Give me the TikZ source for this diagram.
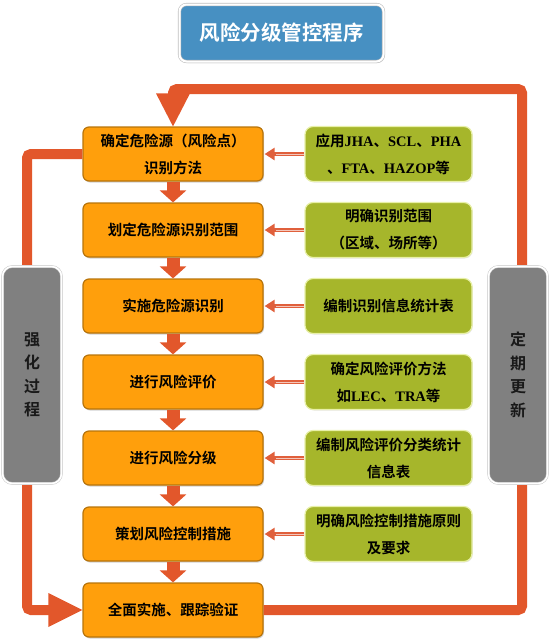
\documentclass[tikz,border=0pt]{standalone}
\usepackage{fontspec}
\setmainfont{Liberation Serif}
\newfontfamily\cjk[BoldFont={Noto Sans CJK SC Bold}]{Noto Sans CJK SC}
\usetikzlibrary{arrows.meta,shadows}
\definecolor{loopred}{HTML}{E2572B}
\definecolor{boxorange}{HTML}{FF9F0C}
\definecolor{boxorangedark}{HTML}{B8740A}
\definecolor{boxgreen}{HTML}{A6B62B}
\definecolor{boxgreenedge}{HTML}{E8F0A8}
\definecolor{bargray}{HTML}{808080}
\definecolor{titleblue}{HTML}{4790C2}
\definecolor{smallred}{HTML}{E0603C}
\newcommand\lat[1]{{\rmfamily #1}}
\tikzset{
  obox/.style={draw=boxorangedark, line width=1.2pt, fill=boxorange, rounded corners=6pt,
    minimum width=180pt, minimum height=54pt, inner sep=0pt, align=center,
    font={\cjk\bfseries\fontsize{14.5}{27}\selectfont},
    drop shadow={shadow xshift=1pt, shadow yshift=-1.5pt, opacity=0.35}},
  gbox/.style={draw=boxgreenedge, line width=1.2pt, fill=boxgreen, rounded corners=8pt,
    minimum width=167pt, minimum height=55pt, inner sep=0pt, align=center,
    font={\cjk\bfseries\fontsize{14.5}{27}\selectfont},
    drop shadow={shadow xshift=0.8pt, shadow yshift=-1pt, opacity=0.2}},
  sidebar/.style={draw=gray!45, double=white, double distance=1.6pt, line width=0.5pt,
    fill=bargray, rounded corners=10pt, minimum width=59pt, minimum height=217pt,
    inner sep=0pt, align=center, text=black!90,
    font={\cjk\bfseries\fontsize{16}{23.5}\selectfont}},
  titlebox/.style={draw=gray!50, double=white, double distance=2pt, line width=0.6pt,
    fill=titleblue, rounded corners=7pt, minimum width=204pt, minimum height=57pt,
    inner sep=0pt, text=white, font={\cjk\bfseries\fontsize{20.5}{24}\selectfont},
    drop shadow={shadow xshift=1pt, shadow yshift=-1.5pt, opacity=0.3}},
  loopline/.style={draw=loopred, line width=10pt, rounded corners=4pt},
  downarrow/.style={draw=loopred, line width=13pt, -{Triangle[length=12pt,width=26pt]}},
  smallarrow/.style={draw=smallred, line width=3.4pt, -{Triangle[length=10pt,width=12pt]}},
  smallinner/.style={draw=smallred!35!white, line width=0.9pt},
}
\begin{document}
\begin{tikzpicture}[x=1pt,y=-1pt]
\useasboundingbox (0,0) rectangle (552,643);

% orange boxes
\node[obox] (o1) at (173,154) {确定危险源（风险点）\\识别方法};
\node[obox] (o2) at (173,230) {划定危险源识别范围};
\node[obox] (o3) at (173,306) {实施危险源识别};
\node[obox] (o4) at (173,382) {进行风险评价};
\node[obox] (o5) at (173,458) {进行风险分级};
\node[obox] (o6) at (173,534) {策划风险控制措施};
\node[obox] (o7) at (173,610) {全面实施、跟踪验证};

% loop lines
\coordinate (ltop) at (27,154);
\coordinate (lbot) at (27,610);
\coordinate (rbot) at (522,610);
\coordinate (rtop) at (522,89);
\coordinate (ctop) at (173,89);
\draw[loopline] (o1.west) -- (ltop) -- (lbot) -- ([xshift=-33pt]o7.west);
\fill[loopred] (o7.west) -- ++(-34,-17) -- ++(0,34) -- cycle;
\draw[loopline] (o7.east) -- (rbot) -- (rtop) -- (ctop) -- ([yshift=32pt]o1.north);
\fill[loopred] (o1.north) -- ++(-17,-33) -- ++(34,0) -- cycle;

% side bars
\node[sidebar] (lb) at (32,375) {强\\化\\过\\程};
\node[sidebar] (rb) at (518,375) {定\\期\\更\\新};

% title
\node[titlebox] (t) at (281.5,33) {风险分级管控程序};

% green boxes
\node[gbox] (g1) at (388.5,154) {应用\lat{JHA}、\lat{SCL}、\lat{PHA}\\、\lat{FTA}、\lat{HAZOP}等};
\node[gbox] (g2) at (388.5,230) {明确识别范围\\（区域、场所等）};
\node[gbox] (g3) at (388.5,306) {编制识别信息统计表};
\node[gbox] (g4) at (388.5,382) {确定风险评价方法\\如\lat{LEC}、\lat{TRA}等};
\node[gbox] (g5) at (388.5,458) {编制风险评价分类统计\\信息表};
\node[gbox] (g6) at (388.5,534) {明确风险控制措施原则\\及要求};

% down arrows
\foreach \a/\b in {o1/o2,o2/o3,o3/o4,o4/o5,o5/o6,o6/o7}{
  \draw[downarrow] (\a.south) -- (\b.north);
}

% small arrows
\foreach \i in {1,...,6}{
  \draw[smallarrow] (g\i.west) -- ([xshift=1pt]o\i.east);
  \draw[smallinner] (g\i.west) -- ([xshift=12pt]o\i.east);
}
\end{tikzpicture}
\end{document}
